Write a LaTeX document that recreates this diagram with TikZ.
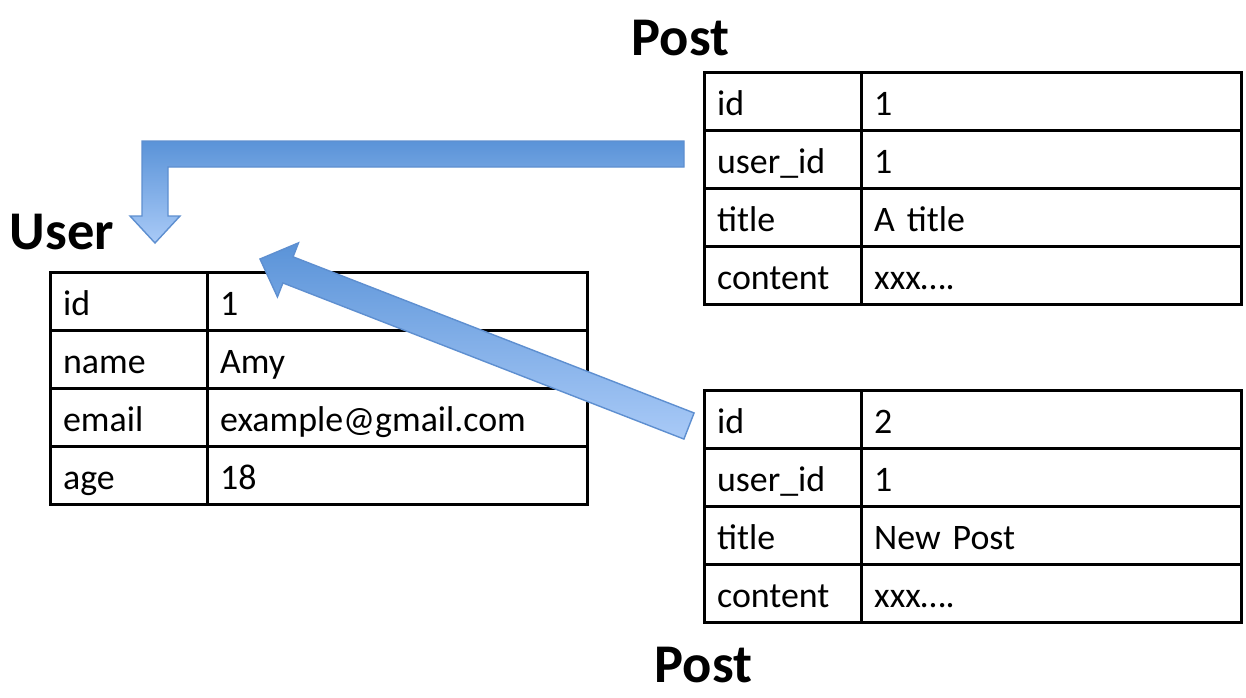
\documentclass[tikz,border=0pt]{standalone}
\usepackage{fontspec}
\setmainfont{Carlito}
\usetikzlibrary{matrix, positioning, calc}
\definecolor{arrowDark}{HTML}{5A93D8}
\definecolor{arrowLight}{HTML}{A9CAF7}
\definecolor{arrowEdge}{HTML}{5E8FD0}
\newcommand{\tablefont}{\fontsize{10.2}{12}\selectfont}
\newcommand{\titlefont}{\fontsize{15.5}{18}\selectfont\bfseries}
\tikzstyle{tbl} = [matrix of nodes, inner sep=0pt, column sep=-0.8pt, row sep=-0.8pt,
  nodes={draw, line width=0.8pt, minimum height=0.58cm, inner xsep=0.13cm, inner ysep=0pt,
    text height=0.34cm, text depth=0.06cm, align=left, font=\tablefont},
  column 1/.style={nodes={text width=1.31cm}},
  column 2/.style={nodes={text width=3.54cm}}]
\tikzstyle{tabletitle} = [anchor=base west, inner sep=0pt, font=\titlefont]
\tikzstyle{blockarrow} = [top color=arrowDark, bottom color=arrowLight, draw=arrowEdge, line width=0.4pt, line join=miter]

\begin{document}
\begin{tikzpicture}[x=0.01cm, y=-0.01cm]
    \useasboundingbox (0,0) rectangle (1246,697);

    % User table
    \matrix (user) [tbl, anchor=north west] at (48,270) {
        id & 1 \\
        name & Amy \\
        email & example@gmail.com \\
        age & 18 \\
    };
    \node (userTitle) [tabletitle] at (9,249) {User};

    % Post tables
    \matrix (post1) [tbl, anchor=north west] at (702,70) {
        id & 1 \\
        user\_id & 1 \\
        title & A title \\
        content & xxx…. \\
    };
    \matrix (post2) [tbl, below=0.82cm of post1] {
        id & 2 \\
        user\_id & 1 \\
        title & New Post \\
        content & xxx…. \\
    };
    \node (postTitle1) [tabletitle] at (631,55) {Post};
    \node (postTitle2) [tabletitle] at (654,682) {Post};

    % Arrows
    \coordinate (lTail) at (684,154);
    \coordinate (lBend) at (155,154);
    \coordinate (lTip) at (155,243);
    \draw [blockarrow] ($(lTail)+(0,-13)$) -- ($(lBend)+(-13,-13)$) -- ($(lTip)+(-13,-27)$)
        -- ($(lTip)+(-25,-27)$) -- (lTip) -- ($(lTip)+(25,-27)$) -- ($(lTip)+(13,-27)$)
        -- ($(lBend)+(13,13)$) -- ($(lTail)+(0,13)$) -- cycle;

    \coordinate (diagTail) at (689,426);
    \coordinate (diagTip) at (260,259);
    \coordinate (diagBase) at ($(diagTip)!0.30cm!(diagTail)$);
    \draw [blockarrow] (diagTip) -- ($(diagBase)!0.29cm!90:(diagTip)$) -- ($(diagBase)!0.14cm!90:(diagTip)$)
        -- ($(diagTail)!0.14cm!90:(diagTip)$) -- ($(diagTail)!0.14cm!-90:(diagTip)$)
        -- ($(diagBase)!0.14cm!-90:(diagTip)$) -- ($(diagBase)!0.29cm!-90:(diagTip)$) -- cycle;
\end{tikzpicture}
\end{document}
